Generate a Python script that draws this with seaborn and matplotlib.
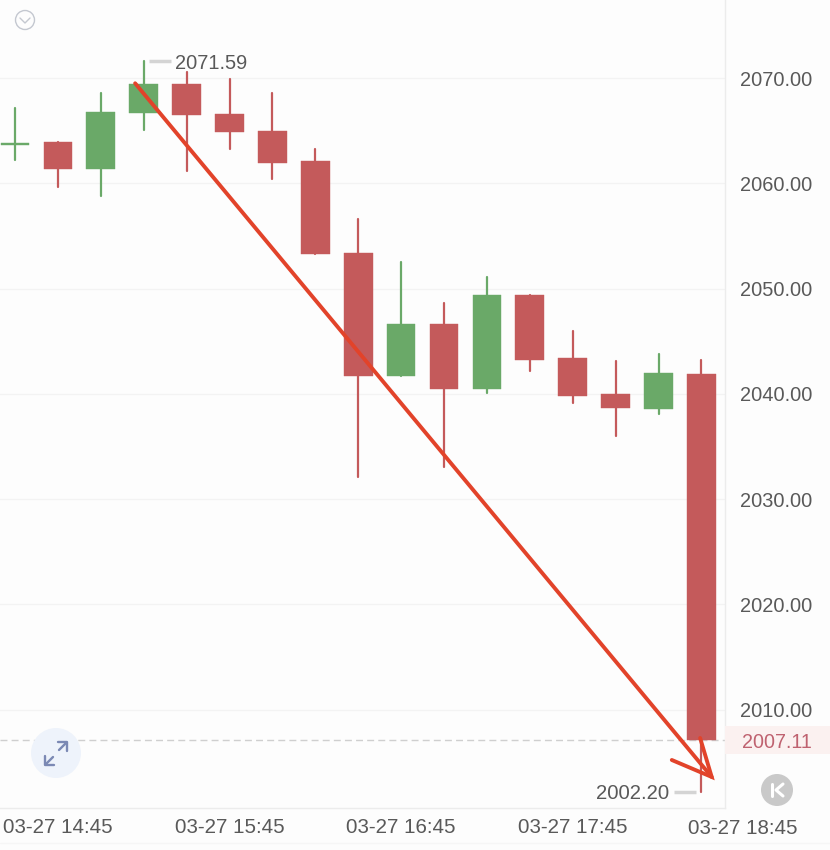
import matplotlib
matplotlib.use("Agg")
import matplotlib.pyplot as plt
import seaborn as sns
import pandas as pd
from matplotlib.patches import Circle, Rectangle

# ---- data ----
idx = list(range(17))
opens = [2063.64, 2063.92, 2061.36, 2066.68, 2069.43, 2066.63, 2065.01, 2062.12, 2053.38,
         2041.70, 2046.64, 2040.47, 2049.39, 2043.41, 2039.99, 2038.57, 2041.90]
closes = [2063.83, 2061.36, 2066.77, 2069.43, 2066.49, 2064.92, 2061.93, 2053.29, 2041.70,
          2046.64, 2040.47, 2049.39, 2043.22, 2039.80, 2038.66, 2041.99, 2007.11]
highs = [2067.15, 2063.92, 2068.58, 2071.59, 2070.57, 2069.91, 2068.58, 2063.26, 2056.61,
         2052.53, 2048.63, 2051.10, 2049.39, 2045.97, 2043.12, 2043.79, 2043.20]
lows = [2062.21, 2059.65, 2058.79, 2065.06, 2061.17, 2063.26, 2060.41, 2053.29, 2032.11,
        2041.70, 2033.06, 2040.09, 2042.17, 2039.14, 2036.00, 2038.09, 2002.20]
y_ticks = [2010, 2020, 2030, 2040, 2050, 2060, 2070]
x_tick_pos = [1, 5, 9, 13]
x_tick_labels = ["03-27 14:45", "03-27 15:45", "03-27 16:45", "03-27 17:45"]
last_tick_pos = 17
last_tick_label = "03-27 18:45"
high_idx, high_val = 3, 2071.59
low_idx, low_val = 16, 2002.20
last_price = 2007.11
arrow_x = [2.80, 16.24]
arrow_y = [2069.50, 2003.62]
barb_x = [15.31, 16.24, 15.97]
barb_y = [2005.23, 2003.62, 2007.32]

RED, GREEN = "#c45a5b", "#6aa968"
BG = "#fdfdfd"
GREY = "#595959"
FONT = "Liberation Sans"

sns.set_theme(style="white", rc={"font.family": FONT})

df = pd.DataFrame({"idx": idx, "open": opens, "close": closes, "high": highs, "low": lows})
df["base"] = df[["open", "close"]].min(axis=1)
df["height"] = (df["open"] - df["close"]).abs()
df["up"] = df["close"] >= df["open"]

fig = plt.figure(figsize=(8.3, 8.5), dpi=100, facecolor=BG)
ax = fig.add_axes([0, 42 / 850, 725 / 830, 808 / 850], facecolor=BG)

# grid and last price line below the candles
for v in y_ticks:
    ax.axhline(v, color="#f3f3f3", lw=1, zorder=0)
ax.axhline(last_price, color="#cfcfcf", lw=1, ls=(0, (5, 3)), zorder=1)

for up, color in [(True, GREEN), (False, RED)]:
    sub = df[df["up"] == up]
    wick = sub.melt(id_vars="idx", value_vars=["low", "high"], value_name="price")
    sns.lineplot(data=wick, x="idx", y="price", units="idx", estimator=None, sort=False,
                 color=color, lw=1.6, ax=ax, legend=False, zorder=2)
    sns.barplot(data=sub, x="idx", y="height", bottom=sub["base"].values, native_scale=True,
                width=0.67, color=color, saturation=1, errorbar=None, ax=ax, zorder=3,
                linewidth=0.3, edgecolor=color)

# min / max markers
ax.plot([high_idx + 0.12, high_idx + 0.63], [high_val, high_val], color="#d4d4d4", lw=2.5, zorder=2,
        solid_capstyle="butt")
ax.text(high_idx + 0.74, high_val, f"{high_val:.2f}", color=GREY, fontsize=14.4,
        va="center_baseline", ha="left")
ax.plot([low_idx - 0.12, low_idx - 0.63], [low_val, low_val], color="#d4d4d4", lw=2.5, zorder=2,
        solid_capstyle="butt")
ax.text(low_idx - 0.75, low_val, f"{low_val:.2f}", color=GREY, fontsize=14.6,
        va="center_baseline", ha="right")

# hand drawn arrow
ax.plot(arrow_x, arrow_y, color="#e2432a", lw=2.8, zorder=5, solid_capstyle="round", clip_on=False)
ax.plot(barb_x, barb_y, color="#e2432a", lw=2.8, zorder=5, solid_joinstyle="miter", clip_on=False)

ax.set_xlim(-0.35, 16.55)
ax.set_ylim(2000.67, 2077.41)
ax.set_xlabel("")
ax.set_ylabel("")
ax.set_yticks(y_ticks, [f"{v:.2f}" for v in y_ticks])
ax.yaxis.tick_right()
ax.set_xticks(x_tick_pos, x_tick_labels)
ax.tick_params(axis="y", length=0, pad=11, labelsize=14.4, labelcolor=GREY)
ax.tick_params(axis="x", length=0, pad=7, labelsize=14.8, labelcolor=GREY)
for lab in ax.get_yticklabels():
    lab.set_verticalalignment("center_baseline")
ax.text(last_tick_pos - 0.03, -11 / 808, last_tick_label, transform=ax.get_xaxis_transform(), color=GREY,
        fontsize=14.8, ha="center", va="top", clip_on=False)
for name in ("top", "left"):
    ax.spines[name].set_visible(False)
for name in ("right", "bottom"):
    ax.spines[name].set_color("#ececec")
    ax.spines[name].set_linewidth(1)

# decorative overlay in pixel coordinates
ov = fig.add_axes([0, 0, 1, 1], facecolor="none")
ov.set_xlim(0, 830)
ov.set_ylim(850, 0)
ov.axis("off")
ov.add_patch(Rectangle((725, 726), 105, 28, color="#fbf1f0", lw=0, zorder=1))
ov.text(777, 741, f"{last_price:.2f}", color="#bf6270", fontsize=14.2, ha="center", va="center_baseline", zorder=2)
ov.add_patch(Circle((25, 20), 9.5, fc="none", ec="#c4c8d0", lw=1))
ov.plot([20, 25, 30], [18, 23, 18], color="#c4c8d0", lw=1)
ov.add_patch(Circle((56, 753), 25, color="#eef3fb", lw=0))
for px, py in [([46, 53], [764, 757]), ([59, 66], [750, 743]), ([45, 45, 54], [756, 765, 765]), ([58, 67, 67], [742, 742, 751])]:
    ov.plot(px, py, color="#7b89b4", lw=1.7)
ov.add_patch(Circle((777, 790), 16, color="#c9c9c9", lw=0))
ov.plot([772, 772], [784, 796], color="white", lw=2.2)
ov.plot([783, 776, 783], [784, 790, 796], color="white", lw=2.2)
ov.plot([0, 830], [843, 843], color="#f6f6f6", lw=1)

fig.savefig("out.png", dpi=100, facecolor=BG)
